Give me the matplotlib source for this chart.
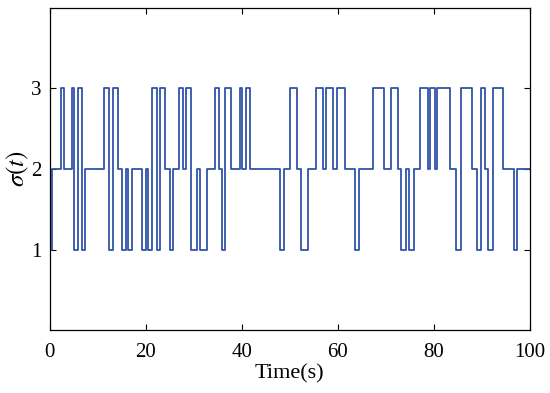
import matplotlib
matplotlib.use("Agg")
import matplotlib.pyplot as plt

# switching instants (s) and the mode that starts at each one
switch_times = [0, 0.6, 2.3, 3.0, 4.6, 5.2, 5.9, 6.7, 7.4, 11.4,
                12.3, 13.3, 14.2, 15.0, 15.9, 16.3, 17.1, 19.2, 20.0, 20.6,
                21.3, 22.3, 23.0, 24.0, 25.0, 25.7, 27.0, 27.7, 28.5, 29.4,
                30.6, 31.4, 32.8, 34.4, 35.3, 35.8, 36.5, 37.8, 39.6, 40.1,
                41.0, 41.7, 48.0, 48.9, 50.0, 51.6, 52.3, 53.9, 55.5, 56.9,
                57.5, 59.1, 59.8, 61.5, 63.6, 64.5, 67.4, 69.7, 71.1, 72.6,
                73.2, 74.3, 74.8, 75.9, 77.1, 78.7, 79.2, 80.2, 80.7, 83.3,
                84.6, 85.6, 87.9, 88.9, 89.9, 90.6, 91.3, 92.2, 94.4, 96.7,
                97.4]
modes = [1, 2, 3, 2, 3, 1, 3, 1, 2, 3,
         1, 3, 2, 1, 2, 1, 2, 1, 2, 1,
         3, 1, 3, 2, 1, 2, 3, 2, 3, 1,
         2, 1, 2, 3, 2, 1, 3, 2, 3, 2,
         3, 2, 1, 2, 3, 2, 1, 2, 3, 2,
         3, 2, 3, 2, 1, 2, 3, 2, 3, 2,
         1, 2, 1, 2, 3, 2, 3, 2, 3, 2,
         1, 3, 2, 1, 3, 2, 1, 3, 2, 1,
         2]
t_end = 100

xticks = [0, 20, 40, 60, 80, 100]
yticks = [1, 2, 3]

plt.rcParams["font.family"] = ["Liberation Serif", "DejaVu Serif"]
plt.rcParams["mathtext.fontset"] = "stix"

fig = plt.figure(figsize=(5.5, 3.93), dpi=100)
ax = fig.add_axes([0.09, 0.16, 0.8736, 0.82])

t = switch_times + [t_end]
v = modes + [modes[-1]]
ax.step(t, v, where="post", color="#3053a8", lw=1.3)

ax.set_xlim(0, 100)
ax.set_ylim(0, 4)
ax.set_xticks(xticks)
ax.set_yticks(yticks)
ax.tick_params(direction="in", top=True, right=True, labelsize=15,
               length=4, width=0.8)
ax.tick_params(axis="x", pad=9)
ax.tick_params(axis="y", pad=6)
for s in ax.spines.values():
    s.set_linewidth(0.9)

ax.set_xlabel("Time(s)", fontsize=16, labelpad=2)
ax.set_ylabel(r"$\sigma(t)$", fontsize=18, labelpad=0)

fig.savefig("out.png", dpi=100)
